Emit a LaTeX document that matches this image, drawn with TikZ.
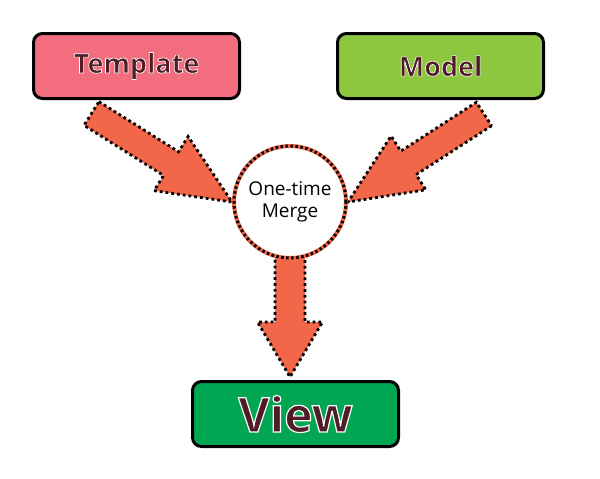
\documentclass[tikz,border=0pt]{standalone}
\usepackage{fontspec}
\setmainfont{Open Sans}
\newfontfamily\labelfont[FakeBold=2.5]{Open Sans}
\usetikzlibrary{calc, positioning, backgrounds}

\definecolor{tmplpink}{RGB}{242,109,125}
\definecolor{modelgreen}{RGB}{141,198,63}
\definecolor{viewgreen}{RGB}{0,166,81}
\definecolor{arrowred}{RGB}{242,102,73}
\definecolor{labelred}{RGB}{80,28,40}

% white rim round the label letters
\newcommand\rimtext[1]{\special{pdf:literal direct 1 1 1 RG}#1}

% fat arrow: start, tip, half shaft, half head, head length
\newcommand\fatarrow[5]{%
  \path ($(#2)!#5!(#1)$) coordinate (fa-base);
  \draw[blockarrow]
    ($(#1)!#3!90:(#2)$) -- ($(fa-base)!#3!-90:(#1)$) -- ($(fa-base)!#4!-90:(#1)$) -- (#2)
    -- ($(fa-base)!#4!90:(#1)$) -- ($(fa-base)!#3!90:(#1)$) -- ($(#1)!#3!-90:(#2)$) -- cycle;
}

\begin{document}
\begin{tikzpicture}[
    x=1pt, y=-1pt,
    box/.style={rectangle, draw, line width=3pt, rounded corners=9pt, minimum width=206pt, minimum height=65pt, text=labelred, font=\labelfont\bfseries\fontsize{27}{30}\selectfont},
    blockarrow/.style={fill=arrowred, draw=black, line width=2.8pt, dash pattern=on 2.8pt off 3pt},
    mergering/.style={circle, fill=white, minimum size=112pt, inner sep=0pt, align=center, font=\fontsize{19}{22}\selectfont,
        draw=arrowred, line width=4pt, postaction={draw=black, line width=3pt, dash pattern=on 2.5pt off 2.5pt}}
]
\useasboundingbox (0,0) rectangle (600,479);

\node[box, fill=tmplpink] (template) at (136.5,66) {\rimtext{Template}};
\node[box, fill=modelgreen, right=95pt of template] (model) {\rimtext{Model}};
\node[mergering] (merge) at (290,202) {One-time\\Merge};
\node[box, fill=viewgreen, font=\labelfont\bfseries\fontsize{48}{52}\selectfont] (view) at (295.5,414) {\rimtext{View}};

\coordinate (tmpl-tail) at (91.5,113.5);
\coordinate (model-tail) at (484,114);
\coordinate (view-tip) at (290,377);

\begin{scope}[on background layer]
\fatarrow{tmpl-tail}{merge.west}{14pt}{32pt}{72pt}
\fatarrow{model-tail}{merge.east}{14pt}{32pt}{72pt}
\fatarrow{merge.center}{view-tip}{15pt}{32.5pt}{55pt}
\end{scope}
\end{tikzpicture}
\end{document}
